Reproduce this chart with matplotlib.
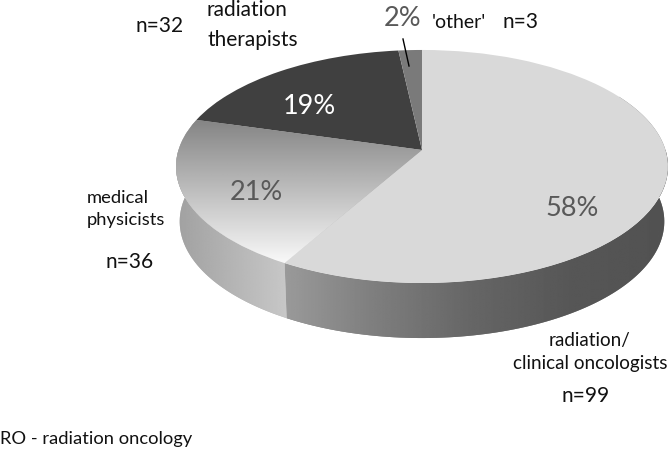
import numpy as np
import matplotlib
matplotlib.use('Agg')
import matplotlib.pyplot as plt
from matplotlib.patches import Polygon
from matplotlib.transforms import Transform

# respondents per profession, clockwise from 12 o'clock
groups = ['radiation/\nclinical oncologists', 'medical\nphysicists', 'radiation\ntherapists', "'other'"]
counts = [99, 36, 32, 3]
percents = ['58%', '21%', '19%', '2%']
n_labels = ['n=99', 'n=36', 'n=32', 'n=3']
colors = ['#d9d9d9', '#b0b0b0', '#404040', '#7a7a7a']

plt.rcParams['font.family'] = ['Lato', 'DejaVu Sans']

W, H = 669, 451
cx, cy = 422.0, 150.0   # apex of the pie on screen
a, b, k = 114.2, 243.5, 0.1416   # perspective of the top disc
depth = 55.0


class Tilt(Transform):
    # unit disc -> screen pixels, far edge is squeezed
    input_dims = 2
    output_dims = 2

    def transform_non_affine(self, xy):
        xy = np.asarray(xy, dtype=float)
        d = 1 + k * xy[:, 1]
        return np.column_stack([cx + b * xy[:, 0] / d, cy - a * xy[:, 1] / d])


tilt = Tilt()


def rim(deg, drop=0.0, scale=1.0):
    # points on the disc edge, deg measured clockwise from the top
    t = np.radians(deg)
    pts = tilt.transform_non_affine(np.column_stack([np.sin(t), np.cos(t)]))
    pts[:, 0] = cx + (pts[:, 0] - cx) * scale
    pts[:, 1] += drop
    return pts


def grad(ax, clip, box, stops, vertical=False):
    # gradient image clipped to a patch
    g = np.interp(np.linspace(0, 1, 256), np.linspace(0, 1, len(stops)), stops)
    g = g.reshape(-1, 1) if vertical else g.reshape(1, -1)
    im = ax.imshow(g, cmap='gray', vmin=0, vmax=1, extent=box, aspect='auto',
                   interpolation='bilinear', zorder=clip.get_zorder() + 0.5,
                   origin='upper')
    im.set_clip_path(clip)
    return im


fig = plt.figure(figsize=(W / 100, H / 100), dpi=100)
ax = fig.add_axes([0, 0, 1, 1])

wedges, _ = ax.pie(counts, colors=colors, startangle=90, counterclock=False,
                   radius=1, center=(0, 0))
ax.set_aspect('auto')
ax.set_xlim(0, W)
ax.set_ylim(H, 0)
ax.axis('off')

for w in wedges:
    w.set_transform(tilt + ax.transData)
    w.set_linewidth(0)
    w.set_zorder(3)

edges = np.cumsum(counts) / np.sum(counts) * 360

# side wall, drawn under the top disc
front = np.linspace(60, edges[0], 120)
side = np.linspace(edges[0], 300, 80)

wall1 = Polygon(np.vstack([rim(front), rim(front, depth, 0.985)[::-1]]), closed=True,
                transform=ax.transData, fc='#808080', lw=0, zorder=1)
ax.add_patch(wall1)
grad(ax, wall1, (270, 670, 345, 150), [0.62, 0.50, 0.40, 0.34, 0.32])

wall2 = Polygon(np.vstack([rim(side), rim(side, depth, 0.985)[::-1]]), closed=True,
                transform=ax.transData, fc='#b8b8b8', lw=0, zorder=1)
ax.add_patch(wall2)
grad(ax, wall2, (176, 300, 330, 150), [0.63, 0.80])

# shaded top of the medical physicists slice
grad(ax, wedges[1], (170, 430, 268, 120), [0.52, 0.99], vertical=True)

# percentages
pct = dict(fontsize=19.5, ha='center', va='center', zorder=6)
ax.text(572, 208, percents[0], color='#595959', **pct)
ax.text(256, 192, percents[1], color='#595959', **pct)
ax.text(309, 106, percents[2], color='white', **pct)
ax.text(403, 18, percents[3], color='#595959', **pct)

# group names and counts
lab = dict(color='#111111', va='center', zorder=6)
ax.text(590, 352, groups[0], fontsize=13.6, ha='center', linespacing=1.4, **lab)
ax.text(87, 209, groups[1], fontsize=13.2, ha='left', linespacing=1.4, **lab)
ax.text(207, 25, groups[2], fontsize=15, ha='left', linespacing=1.65, **lab)
ax.text(432, 22, groups[3], fontsize=14, ha='left', **lab)
ax.text(586, 396, n_labels[0], fontsize=15, ha='center', **lab)
ax.text(130, 262, n_labels[1], fontsize=15, ha='center', **lab)
ax.text(160, 26, n_labels[2], fontsize=15, ha='center', **lab)
ax.text(503, 22, n_labels[3], fontsize=15, ha='left', **lab)

ax.plot([403, 409], [39, 66], color='black', lw=1, zorder=6)

ax.text(0, 439, 'RO - radiation oncology', fontsize=13.2, color='#111111', ha='left', va='center', zorder=6)

fig.savefig('out.png', dpi=100)
